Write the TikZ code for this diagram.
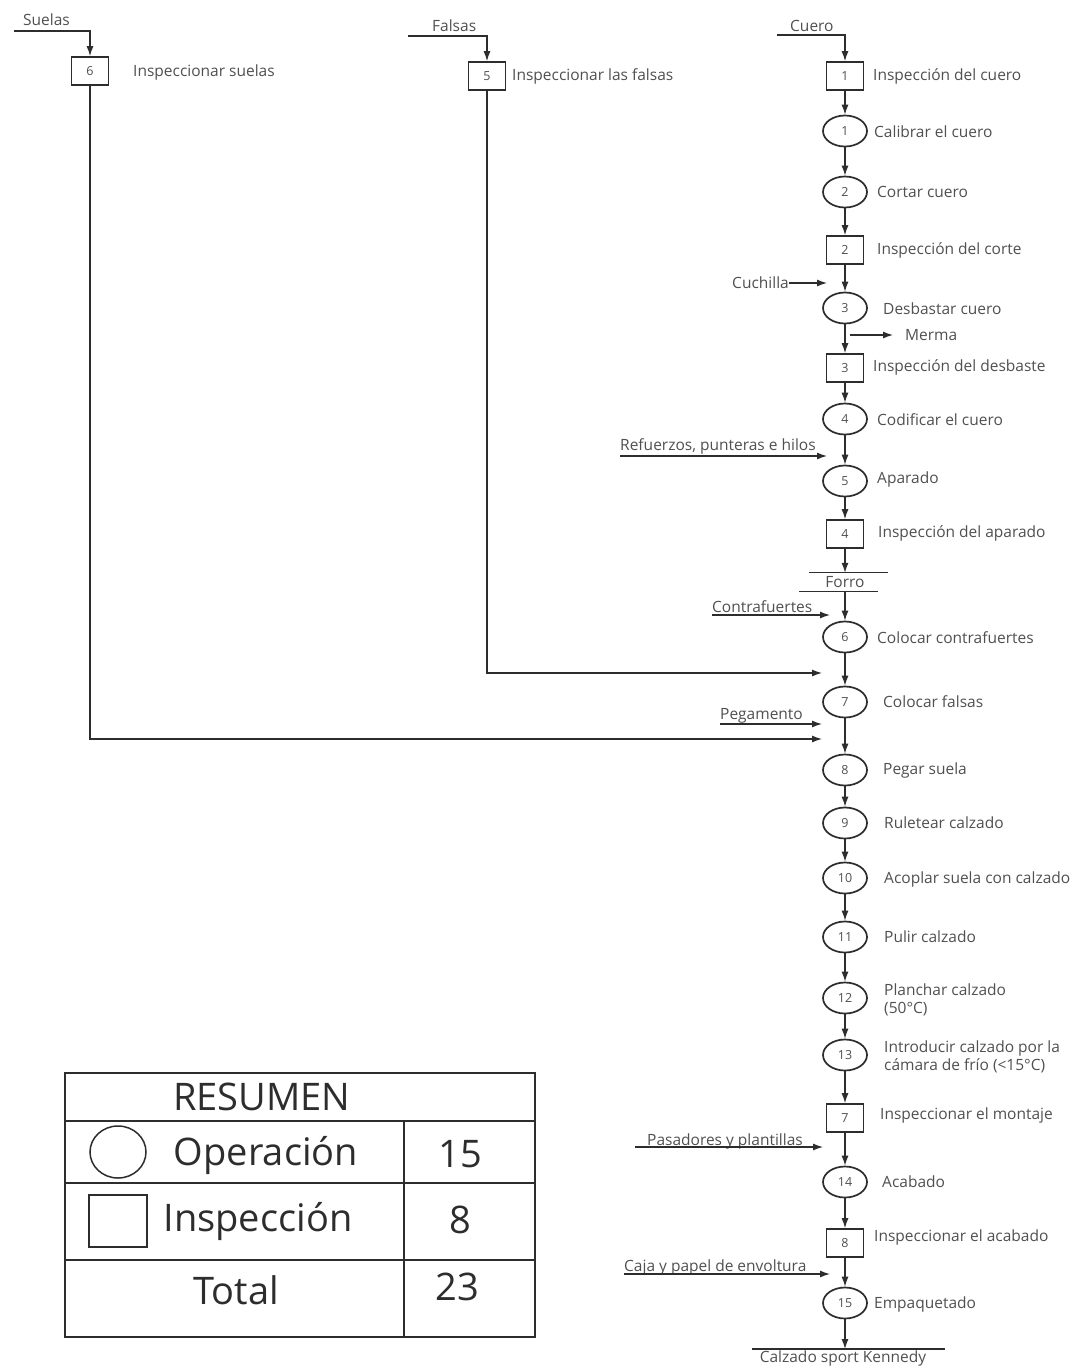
\documentclass[tikz,border=0pt]{standalone}
\usepackage{fontspec}
\setmainfont{Open Sans}
\usetikzlibrary{shapes.geometric, arrows.meta}
\definecolor{lineablack}{RGB}{45, 45, 45}
\definecolor{textogris}{RGB}{80, 80, 80}
\tikzstyle{operacion}=[ellipse, draw=lineablack, line width=1.7pt, minimum width=44pt, minimum height=31pt,
    inner sep=0pt, text=textogris, font=\fontsize{12.5}{12.5}\selectfont]
\tikzstyle{inspeccion}=[rectangle, draw=lineablack, line width=1.7pt, minimum width=37pt, minimum height=28pt,
    inner sep=0pt, text=textogris, font=\fontsize{12.5}{12.5}\selectfont]
\tikzstyle{paso_texto}=[anchor=west, align=left, inner sep=0pt, text=textogris, font=\fontsize{15.5}{18}\selectfont]
\tikzstyle{material}=[anchor=base west, inner sep=0pt, text=textogris, font=\fontsize{15.5}{18}\selectfont]
\tikzstyle{flujo}=[draw=lineablack, line width=1.2pt, -{Latex[length=10pt, width=7pt]}]
\tikzstyle{linea}=[draw=lineablack, line width=1.2pt]
\tikzstyle{resumen_texto}=[text=lineablack, inner sep=0pt, font=\fontsize{38}{42}\selectfont]

\begin{document}
\begin{tikzpicture}[x=1pt, y=-1pt]
  \useasboundingbox (0,0) rectangle (1081,1369);
  \fill[white] (0,0) rectangle (1081,1369);

  % Suelas and Falsas branches at the top
  \node[inspeccion] (insp6) at (90,71) {6};
  \node[paso_texto] (t_insp6) at (133,72) {Inspeccionar suelas};
  \node[inspeccion] (insp5) at (487,76) {5};
  \node[paso_texto] (t_insp5) at (512,76) {Inspeccionar las falsas};

  % Main column (cuero), positions
  \node[inspeccion] (insp1) at (845,76) {1};
  \node[operacion] (op1) at (845,131) {1};
  \node[operacion] (op2) at (845,192) {2};
  \node[inspeccion] (insp2) at (845,250) {2};
  \node[operacion] (op3) at (845,308) {3};
  \node[inspeccion] (insp3) at (845,368) {3};
  \node[operacion] (op4) at (845,419) {4};
  \node[operacion] (op5) at (845,481) {5};
  \node[inspeccion] (insp4) at (845,534) {4};
  \node[operacion] (op6) at (845,637) {6};
  \node[operacion] (op7) at (845,702) {7};
  \node[operacion] (op8) at (845,770) {8};
  \node[operacion] (op9) at (845,823) {9};
  \node[operacion] (op10) at (845,878) {10};
  \node[operacion] (op11) at (845,937) {11};
  \node[operacion] (op12) at (845,998) {12};
  \node[operacion] (op13) at (845,1055) {13};
  \node[inspeccion] (insp7) at (845,1118) {7};
  \node[operacion] (op14) at (845,1182) {14};
  \node[inspeccion] (insp8) at (845,1243) {8};
  \node[operacion] (op15) at (845,1303) {15};

  % Step descriptions
  \node[paso_texto] (t_insp1) at (873,76) {Inspección del cuero};
  \node[paso_texto] (t_op1) at (874,132) {Calibrar el cuero};
  \node[paso_texto] (t_op2) at (877,192) {Cortar cuero};
  \node[paso_texto] (t_insp2) at (877,250) {Inspección del corte};
  \node[paso_texto] (t_op3) at (883,309) {Desbastar cuero};
  \node[paso_texto] (t_insp3) at (873,367) {Inspección del desbaste};
  \node[paso_texto] (t_op4) at (877,420) {Codificar el cuero};
  \node[paso_texto] (t_op5) at (877,479) {Aparado};
  \node[paso_texto] (t_insp4) at (878,533) {Inspección del aparado};
  \node[paso_texto] (t_op6) at (877,638) {Colocar contrafuertes};
  \node[paso_texto] (t_op7) at (883,702) {Colocar falsas};
  \node[paso_texto] (t_op8) at (883,770) {Pegar suela};
  \node[paso_texto] (t_op9) at (884,823) {Ruletear calzado};
  \node[paso_texto] (t_op10) at (884,879) {Acoplar suela con calzado};
  \node[paso_texto] (t_op11) at (884,937) {Pulir calzado};
  \node[paso_texto] (t_op12) at (884,1000) {Planchar calzado\\(50°C)};
  \node[paso_texto] (t_op13) at (884,1057) {Introducir calzado por la\\cámara de frío (<15°C)};
  \node[paso_texto] (t_insp7) at (880,1115) {Inspeccionar el montaje};
  \node[paso_texto] (t_op14) at (882,1182) {Acabado};
  \node[paso_texto] (t_insp8) at (874,1237) {Inspeccionar el acabado};
  \node[paso_texto] (t_op15) at (874,1304) {Empaquetado};

  % Raw materials coming in at the top
  \node[material] (suelas) at (23,25) {Suelas};
  \coordinate (suelas_inicio) at (14,31);
  \draw[flujo] (suelas_inicio) -- (suelas_inicio -| insp6) -- (insp6.north);
  \node[material] (falsas) at (432,31) {Falsas};
  \coordinate (falsas_inicio) at (408,36);
  \draw[flujo] (falsas_inicio) -- (falsas_inicio -| insp5) -- (insp5.north);
  \node[material] (cuero) at (790,31) {Cuero};
  \coordinate (cuero_inicio) at (777,35);
  \draw[flujo] (cuero_inicio) -- (cuero_inicio -| insp1) -- (insp1.north);

  % Arrows down the main column
  \foreach \desde/\hasta in {insp1/op1, op1/op2, op2/insp2, insp2/op3, op3/insp3, insp3/op4, op4/op5,
      op5/insp4, op6/op7, op7/op8, op8/op9, op9/op10, op10/op11, op11/op12, op12/op13, op13/insp7,
      insp7/op14, op14/insp8, insp8/op15} {
      \draw[flujo] (\desde) -- (\hasta);
  }

  % Forro, drawn between two lines
  \node[text=textogris, inner sep=0pt, minimum height=18pt, font=\fontsize{15.5}{18}\selectfont] (forro) at (845,582) {Forro};
  \draw[linea] ([xshift=-36pt]forro.north) -- ([xshift=43pt]forro.north);
  \draw[linea] ([xshift=-46pt]forro.south) -- ([xshift=33pt]forro.south);
  \draw[flujo] (insp4) -- (forro.north);
  \draw[flujo] (forro.south) -- (op6);

  % Cuchilla goes in, merma comes out
  \node[material, anchor=base east] (cuchilla) at (789,288) {Cuchilla};
  \coordinate (cuchilla_fin) at (827,283);
  \draw[flujo] (cuchilla.east |- cuchilla_fin) -- (cuchilla_fin);
  \node[material] (merma) at (905,340) {Merma};
  \coordinate (merma_origen) at (850,335);
  \coordinate (merma_fin) at (893,335);
  \draw[flujo] (merma_origen) -- (merma_fin);

  % Underlined materials that join the column
  \node[material] (refuerzos) at (620,450) {Refuerzos, punteras e hilos};
  \coordinate (refuerzos_fin) at (827,456);
  \draw[flujo] (refuerzos.base west |- refuerzos_fin) -- (refuerzos_fin);
  \node[material] (contrafuertes) at (712,612) {Contrafuertes};
  \coordinate (contrafuertes_fin) at (830,615);
  \draw[flujo] (contrafuertes.base west |- contrafuertes_fin) -- (contrafuertes_fin);
  \node[material] (pegamento) at (720,719) {Pegamento};
  \coordinate (pegamento_fin) at (822,724);
  \draw[flujo] (pegamento.base west |- pegamento_fin) -- (pegamento_fin);
  \node[material] (pasadores) at (647,1145) {Pasadores y plantillas};
  \coordinate (pasadores_fin) at (823,1147);
  \draw[flujo] (635,1147) -- (pasadores_fin);
  \node[material] (caja) at (624,1271) {Caja y papel de envoltura};
  \coordinate (caja_fin) at (830,1274);
  \draw[flujo] (caja.base west |- caja_fin) -- (caja_fin);

  % Long lines from the inspected falsas and suelas
  \coordinate (falsas_fin) at (822,673);
  \draw[flujo] (insp5.south) -- (insp5.south |- falsas_fin) -- (falsas_fin);
  \coordinate (suelas_fin) at (822,739);
  \draw[flujo] (insp6.south) -- (insp6.south |- suelas_fin) -- (suelas_fin);

  % Finished product
  \node[text=textogris, anchor=north, inner sep=2pt, font=\fontsize{15.5}{18}\selectfont] (calzado) at (843,1349) {Calzado sport Kennedy};
  \draw[linea] ([xshift=-91pt]calzado.north) -- ([xshift=102pt]calzado.north);
  \draw[flujo] (op15) -- (op15 |- calzado.north);

  % Summary table
  \draw[line width=1.5pt, draw=lineablack] (65,1073) rectangle (535,1337);
  \draw[line width=1.5pt, draw=lineablack] (65,1121) -- (535,1121);
  \draw[line width=1.5pt, draw=lineablack] (65,1183) -- (535,1183);
  \draw[line width=1.5pt, draw=lineablack] (65,1260) -- (535,1260);
  \draw[line width=1.5pt, draw=lineablack] (404,1121) -- (404,1337);
  \draw[line width=1.5pt, draw=lineablack] (118,1152) ellipse [x radius=28, y radius=26];
  \draw[line width=1.5pt, draw=lineablack] (89,1195) rectangle (147,1247);
  \node[resumen_texto] (resumen) at (262,1097) {RESUMEN};
  \node[resumen_texto] (operacion) at (266,1155) {Operación};
  \node[resumen_texto] (n_operacion) at (460,1154) {15};
  \node[resumen_texto] (inspeccion) at (258,1221) {Inspección};
  \node[resumen_texto] (n_inspeccion) at (460,1220) {8};
  \node[resumen_texto] (total) at (236,1290) {Total};
  \node[resumen_texto] (n_total) at (457,1287) {23};

\end{tikzpicture}
\end{document}
